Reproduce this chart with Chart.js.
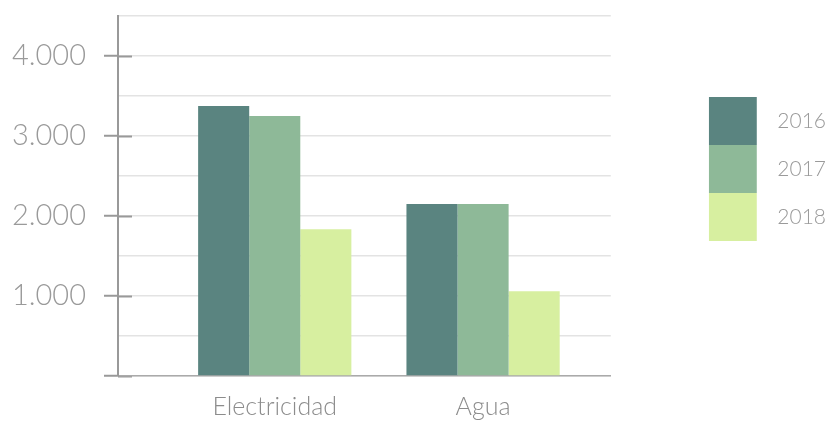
<!DOCTYPE html>
<html>
<head>
<meta charset="utf-8">
<script src="https://cdn.jsdelivr.net/npm/chart.js@4"></script>
<style>
  html, body { margin: 0; padding: 0; background: #fff; }
  #wrap { width: 832px; height: 421px; }
</style>
</head>
<body>
<div id="wrap"><canvas id="chart"></canvas></div>
<script>
const categorias = ['Electricidad', 'Agua'];
const anios = ['2016', '2017', '2018'];
const valores2016 = [3375, 2150];
const valores2017 = [3250, 2150];
const valores2018 = [1835, 1060];
const colores = ['#5a8480', '#8eb998', '#d7efa0'];

const series = [valores2016, valores2017, valores2018];
const grisTexto = '#9a9a9a';

// puntos x = 1, 2 ... sobre un eje lineal para poder colocar los grupos
const datasets = series.map((vals, i) => ({
  label: anios[i],
  data: vals.map((v, j) => ({ x: j + 1, y: v })),
  backgroundColor: colores[i],
  borderWidth: 0,
  categoryPercentage: 0.7356,
  barPercentage: 1
}));

const esMil = v => v % 1000 === 0;

new Chart(document.getElementById('chart'), {
  type: 'bar',
  data: { datasets: datasets },
  options: {
    responsive: true,
    maintainAspectRatio: false,
    animation: false,
    layout: { padding: { top: 0, right: 6, left: 0, bottom: 0 } },
    plugins: {
      tooltip: { enabled: false },
      legend: {
        position: 'right',
        align: 'start',
        maxWidth: 200,
        title: { display: true, text: '', font: { size: 10 }, padding: { top: 85, bottom: 0 } },
        labels: {
          boxWidth: 48,
          boxHeight: 48,
          padding: 0,
          textAlign: 'right',
          color: grisTexto,
          font: { family: 'Lato', size: 21, weight: 300 }
        }
      }
    },
    scales: {
      x: {
        type: 'linear',
        offset: false,
        min: 0.2476,
        max: 2.613,
        afterBuildTicks: s => { s.ticks = categorias.map((c, i) => ({ value: i + 1 })); },
        afterFit: s => { s.height = 45; },
        grid: { display: false, drawTicks: false },
        border: { color: '#aaaaaa', width: 1.5 },
        ticks: {
          callback: v => categorias[v - 1],
          color: '#8c8c8c',
          font: { family: 'Lato', size: 25, weight: 300 },
          padding: 16,
          maxRotation: 0,
          autoSkip: false
        }
      },
      y: {
        position: 'left',
        weight: 1,
        min: 0,
        max: 4500,
        afterFit: s => { s.width = 118; s.paddingTop = 16; s.paddingBottom = 0; },
        grid: {
          color: '#e3e3e3',
          lineWidth: 1.5,
          tickLength: 14,
          tickWidth: 2,
          tickColor: c => esMil(c.tick.value) ? '#999999' : 'rgba(0,0,0,0)'
        },
        border: { color: '#999999', width: 2 },
        ticks: {
          stepSize: 500,
          padding: 18,
          color: grisTexto,
          font: { family: 'Lato', size: 29, weight: 300 },
          callback: v => (esMil(v) && v > 0) ? v.toLocaleString('de-DE') : ''
        }
      },
      // marcas hacia dentro del eje (cruzan la linea)
      yDentro: {
        position: 'left',
        weight: 0,
        min: 0,
        max: 4500,
        afterFit: s => { s.width = 0; },
        grid: {
          drawOnChartArea: false,
          tickLength: -14,
          tickWidth: 2,
          tickColor: c => esMil(c.tick.value) && c.tick.value < 4500 ? '#999999' : 'rgba(0,0,0,0)'
        },
        border: { display: false },
        ticks: { display: false, stepSize: 500 }
      },
      // hueco entre el grafico y la leyenda
      yHueco: {
        position: 'right',
        afterFit: s => { s.width = 98; },
        grid: { display: false },
        border: { display: false },
        ticks: { display: false }
      }
    }
  }
});
</script>
</body>
</html>
